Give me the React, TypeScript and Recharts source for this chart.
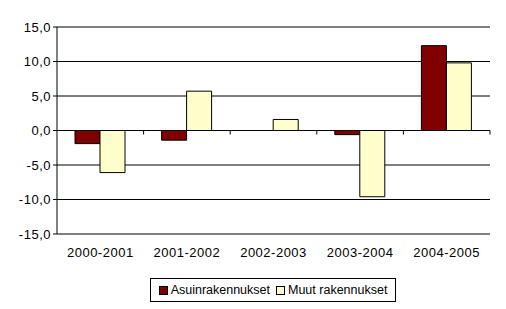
import { BarChart, Bar, XAxis, YAxis, CartesianGrid, ReferenceLine } from "recharts";

const periods = ["2000-2001", "2001-2002", "2002-2003", "2003-2004", "2004-2005"];
const asuin = [-1.9, -1.4, 0, -0.6, 12.3];
const muut = [-6.1, 5.7, 1.6, -9.6, 9.8];
const yTicks = [-15, -10, -5, 0, 5, 10, 15];

const data = periods.map((p, i) => ({ period: p, asuin: asuin[i], muut: muut[i] }));

const font = "'Liberation Sans', Arial, sans-serif";
const fmt = (v: number) => v.toFixed(1).replace(".", ",");

// zero line with category boundary ticks hanging below it
const ZeroAxis = (props: any) => {
  const { x1, y1, x2 } = props;
  const n = periods.length;
  const step = (x2 - x1) / n;
  return (
    <g>
      <line x1={x1} y1={y1} x2={x2} y2={y1} stroke="#000" strokeWidth={1} />
      {Array.from({ length: n }, (_, i) => (
        <line key={i} x1={x1 + step * (i + 1)} y1={y1} x2={x1 + step * (i + 1)} y2={y1 + 4} stroke="#000" />
      ))}
    </g>
  );
};

const LegendBox = () => (
  <div
    style={{
      position: "absolute",
      left: 150,
      top: 278,
      width: 244,
      height: 22,
      border: "1px solid #000",
      display: "flex",
      alignItems: "center",
      justifyContent: "center",
      fontFamily: font,
      fontSize: 12.5,
      color: "#000",
      background: "#fff",
    }}
  >
    <span style={{ width: 7, height: 7, background: "#800000", border: "1px solid #000", marginRight: 3 }} />
    <span style={{ marginRight: 6 }}>Asuinrakennukset</span>
    <span style={{ width: 7, height: 7, background: "#FFFFCC", border: "1px solid #000", marginRight: 3 }} />
    <span>Muut rakennukset</span>
  </div>
);

const tickStyle = { fontFamily: font, fontSize: 13, fill: "#000", letterSpacing: 0.5 };

export default function App() {
  return (
    <div style={{ position: "absolute", left: 0, top: 0, width: 506, height: 309, background: "#fff" }}>
      <BarChart
        width={506}
        height={309}
        data={data}
        margin={{ top: 27, right: 16, left: 0, bottom: 45 }}
        barCategoryGap={18}
        barGap={0}
      >
        <CartesianGrid vertical={false} stroke="#000" strokeOpacity={1} />
        <XAxis
          dataKey="period"
          height={30}
          axisLine={false}
          tickLine={false}
          tickSize={0}
          tickMargin={14}
          tick={tickStyle}
          interval={0}
        />
        <YAxis
          domain={[-15, 15]}
          ticks={yTicks}
          width={57}
          tickFormatter={fmt}
          tickSize={4}
          tickMargin={2}
          axisLine={{ stroke: "#000" }}
          tickLine={{ stroke: "#000" }}
          tick={tickStyle}
          allowDataOverflow
        />
        <YAxis yAxisId="r" orientation="right" width={0} tick={false} tickLine={false} axisLine={{ stroke: "#808080" }} />
        <ReferenceLine y={15} stroke="#808080" />
        <Bar dataKey="asuin" name="Asuinrakennukset" fill="#800000" stroke="#000" strokeWidth={1} isAnimationActive={false} />
        <Bar dataKey="muut" name="Muut rakennukset" fill="#FFFFCC" stroke="#000" strokeWidth={1} isAnimationActive={false} />
        <ReferenceLine y={0} shape={<ZeroAxis />} />
      </BarChart>
      <LegendBox />
    </div>
  );
}
